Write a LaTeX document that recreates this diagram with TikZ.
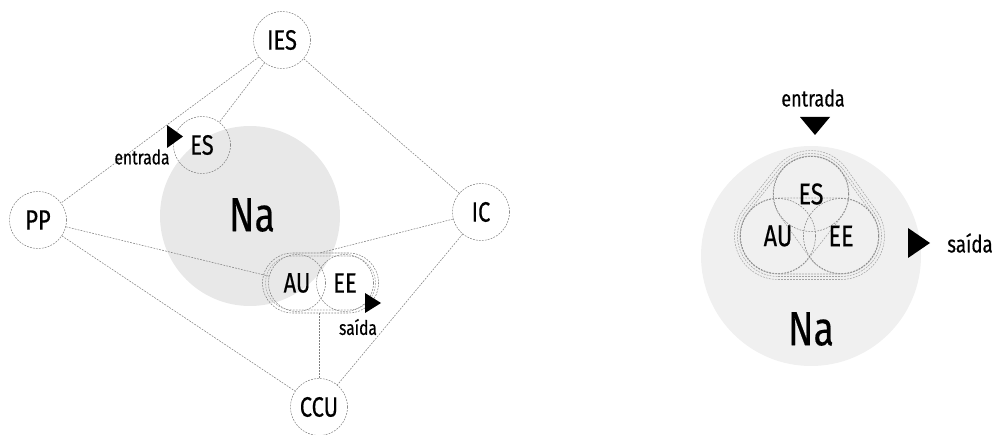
\documentclass[tikz,border=0pt]{standalone}
\usepackage{fontspec}
\setmainfont[FakeStretch=0.78, FakeBold=0.4]{Fira Sans}
\usetikzlibrary{calc}

\tikzset{
  dline/.style={draw=black!50, line width=0.55pt, dash pattern=on 1.8pt off 1.2pt},
  hline/.style={dline, draw=black!36},
  circnode/.style={circle, dline, minimum size=57pt, inner sep=0pt, font=\fontsize{28}{28}\selectfont},
  bigcirc/.style={circle, dline, minimum size=75pt, inner sep=0pt, font=\fontsize{30}{30}\selectfont},
  lbl/.style={inner sep=0pt, font=\fontsize{#1}{#1}\selectfont},
  tip/.style={fill=black, draw=none},
}

\begin{document}
\begin{tikzpicture}[x=1pt, y=1pt]
  \useasboundingbox (0,0) rectangle (999,434);

  % ---------- left diagram ----------
  \fill[black!9] (250,218) circle[radius=90pt];
  \node[lbl=48] (na) at (252,219) {Na};

  \node[circnode] (IES) at (282,394) {IES};
  \node[circnode] (ES)  at (202,289) {ES};
  \node[circnode] (PP)  at (38,214)  {PP};
  \node[circnode] (IC)  at (481,222) {IC};
  \node[circnode] (AU)  at (297,151) {AU};
  \node[circnode] (EE)  at (345,151) {EE};
  \node[circnode] (CCU) at (319,27)  {CCU};

  % double outline round the AU/EE pair
  \node[dline, rounded corners=30pt, minimum width=116pt, minimum height=60pt, inner sep=0pt] (grp) at (320.5,151) {};
  \node[hline, rounded corners=27pt, minimum width=110pt, minimum height=54pt, inner sep=0pt] (grpin) at (320.5,151) {};

  \draw[dline] (IES) -- (PP);
  \draw[dline] (IES) -- (ES);
  \draw[dline] (IES) -- (IC);
  \draw[dline] (PP) -- (AU);
  \draw[dline] (PP) -- (CCU);
  \draw[dline] (IC) -- (grp.north);
  \draw[dline] (IC) -- (CCU);
  \coordinate (grpfoot) at (CCU.north |- grp.south);
  \draw[dline] (grpfoot) -- (CCU);

  % input / output marks
  \fill[tip] (167,309) -- (167,286) -- (183,297.5) -- cycle;
  \node[lbl=20] (inL) at (142,277) {entrada};
  \fill[tip] (365,141) -- (365,121) -- (381,131) -- cycle;
  \node[lbl=20] (outL) at (358,107) {saída};

  % ---------- right diagram ----------
  \fill[black!6] (811,178) circle[radius=110pt];
  \node[lbl=48] (na2) at (811,105) {Na};

  \coordinate (A) at (778,198);
  \coordinate (B) at (841,198);
  \coordinate (C) at (811,240);

  % pairwise hulls
  \begin{scope}[shift={(809.5,198)}]
    \draw[hline, rounded corners=38pt] (-69.5,-38) rectangle (69.5,38);
  \end{scope}
  \begin{scope}[shift={(794.5,219)}, rotate=51.8]
    \draw[hline, rounded corners=38pt] (-64.7,-38) rectangle (64.7,38);
  \end{scope}
  \begin{scope}[shift={(826,219)}, rotate=125.5]
    \draw[hline, rounded corners=38pt] (-63.8,-38) rectangle (63.8,38);
  \end{scope}

  % double hull round the three circles
  \foreach \r in {40.5,43.5}{
    \draw[hline] ($(A)+(270:\r pt)$) -- ($(B)+(270:\r pt)$)
      arc[start angle=270, end angle=395.5, radius=\r pt]
      -- ($(C)+(35.5:\r pt)$)
      arc[start angle=35.5, end angle=141.8, radius=\r pt]
      -- ($(A)+(141.8:\r pt)$)
      arc[start angle=141.8, end angle=270, radius=\r pt] -- cycle;
  }

  \node[bigcirc] (ES2) at (C) {ES};
  \node[bigcirc] (AU2) at (A) {AU};
  \node[bigcirc] (EE2) at (B) {EE};

  \node[lbl=23] (inR) at (813,336) {entrada};
  \fill[tip] (800,317) -- (830,317) -- (815,299) -- cycle;
  \fill[tip] (908,206) -- (908,176) -- (930,191) -- cycle;
  \node[lbl=24] (outR) at (970,191) {saída};
\end{tikzpicture}
\end{document}
